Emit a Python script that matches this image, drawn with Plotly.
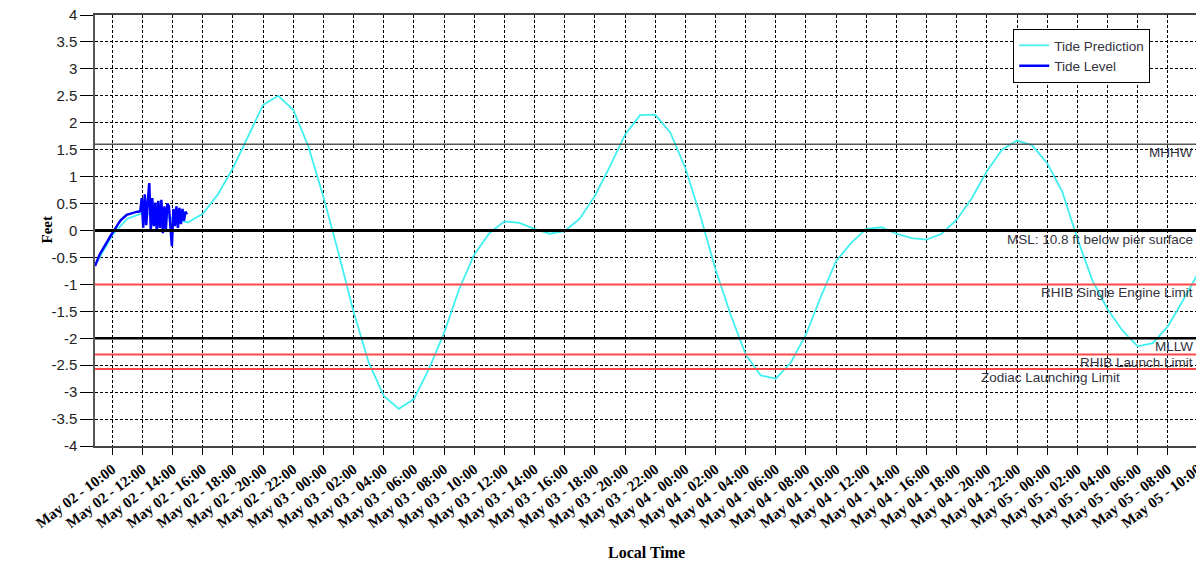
import pandas as pd
import plotly.graph_objects as go

# ---- data ----
pred_start = "2024-05-02 09:00"
pred_values = [
    -0.58, -0.08, 0.22, 0.32, 0.30, 0.22, 0.15, 0.31, 0.67, 1.16,
    1.76, 2.33, 2.50, 2.24, 1.56, 0.62, -0.42, -1.51, -2.45, -3.07,
    -3.31, -3.13, -2.57, -1.90, -1.09, -0.45, -0.05, 0.17, 0.14, 0.03,
    -0.06, -0.01, 0.22, 0.64, 1.19, 1.78, 2.14, 2.15, 1.82, 1.16,
    0.27, -0.72, -1.56, -2.30, -2.69, -2.75, -2.45, -1.93, -1.22, -0.57,
    -0.23, 0.03, 0.06, -0.06, -0.14, -0.17, -0.06, 0.20, 0.60, 1.10,
    1.50, 1.67, 1.58, 1.25, 0.72, -0.15, -0.93, -1.46, -1.86, -2.15,
    -2.09, -1.78, -1.30, -0.80,
]

level_start = "2024-05-02 08:51"
level_values = [
    -0.66, -0.58, -0.51, -0.45, -0.40, -0.35, -0.30, -0.25, -0.21, -0.17,
    -0.12, -0.07, -0.03, 0.02, 0.07, 0.11, 0.15, 0.19, 0.22, 0.25,
    0.27, 0.29, 0.30, 0.31, 0.32, 0.33, 0.33, 0.34, 0.35, 0.35,
    0.36, 0.60, 0.05, 0.67, 0.10, 0.55, 0.88, 0.00, 0.60, 0.08,
    0.52, -0.02, 0.55, 0.05, 0.57, -0.05, 0.45, 0.02, 0.50, 0.45,
    0.05, -0.29, 0.40, 0.08, 0.45, 0.05, 0.42, 0.12, 0.40, 0.18,
    0.35, 0.30,
]

ref_names = ["MHHW", "MSL: 10.8 ft below pier surface", "RHIB Single Engine Limit",
             "MLLW", "RHIB Launch Limit", "Zodiac Launching Limit"]
ref_values = [1.6, 0.0, -1.0, -2.0, -2.3, -2.57]
ref_colors = ["#555555", "#000000", "#ff4848", "#000000", "#ff4848", "#ff4848"]
ref_widths = [1.5, 3, 2, 2.5, 2, 2]
ref_label_shift = [-3, -3, -3, -3, -3, -76]

x_range = ["2024-05-02 08:51", "2024-05-05 10:00"]
y_ticks = [-4, -3.5, -3, -2.5, -2, -1.5, -1, -0.5, 0, 0.5, 1, 1.5, 2, 2.5, 3, 3.5, 4]

pred_times = pd.date_range(pred_start, periods=len(pred_values), freq="1h")
level_times = pd.date_range(level_start, periods=len(level_values), freq="6min")

fig = go.Figure()
fig.add_trace(go.Scatter(x=pred_times, y=pred_values, mode="lines", name="Tide Prediction",
                         line=dict(color="#40f0f0", width=1.8)))
fig.add_trace(go.Scatter(x=level_times, y=level_values, mode="lines", name="Tide Level",
                         line=dict(color="#0000ff", width=2.5)))

shapes = []
annotations = []
for name, v, c, w, sh in zip(ref_names, ref_values, ref_colors, ref_widths, ref_label_shift):
    shapes.append(dict(type="line", xref="paper", x0=0, x1=1, yref="y", y0=v, y1=v,
                       line=dict(color=c, width=w), layer="above"))
    annotations.append(dict(x=1, xref="paper", y=v, yref="y", text=name, showarrow=False,
                            xanchor="right", yanchor="top", xshift=sh, yshift=1,
                            font=dict(family="Liberation Sans", size=13.5, color="#333340")))

annotations.append(dict(x=0, xref="paper", y=0.5, yref="paper", text="<b>Feet</b>",
                        showarrow=False, textangle=-90, xshift=-59,
                        font=dict(family="Liberation Serif", size=15, color="#000")))
annotations.append(dict(x=0.5, xref="paper", y=0, yref="paper", text="<b>Local Time</b>",
                        showarrow=False, yshift=-106, yanchor="middle",
                        font=dict(family="Liberation Serif", size=16, color="#000")))

# page body has an 8px margin: figure is offset so the plot area lands at x 95-1198, y 15-446
fig.update_layout(
    width=1196, height=557,
    margin=dict(l=87, r=6, t=7, b=119),
    paper_bgcolor="white", plot_bgcolor="white",
    shapes=shapes, annotations=annotations,
    showlegend=True,
    legend=dict(x=0.8325, y=0.9675, xanchor="left", yanchor="top",
                bgcolor="white", bordercolor="#000", borderwidth=1,
                font=dict(family="Liberation Sans", size=13.5, color="#333340"),
                tracegroupgap=0, itemwidth=30),
    xaxis=dict(range=x_range, type="date", tick0="2024-05-02 10:00", dtick=7200000,
               tickformat="%b %d - %H:%M", tickangle=-37,
               tickfont=dict(family="Liberation Serif", size=15, color="#000", weight="bold"),
               showgrid=True, gridcolor="#000", griddash="3px,2px", gridwidth=1,
               ticks="outside", ticklen=7, tickcolor="#000",
               showline=True, linecolor="#444", linewidth=1.5, mirror=True, zeroline=False,
               automargin=False, ticklabeloverflow="allow"),
    yaxis=dict(range=[-4, 4], tickvals=y_ticks,
               ticktext=[("%g" % t) for t in y_ticks],
               tickfont=dict(family="Liberation Sans", size=15, color="#222"),
               showgrid=True, gridcolor="#000", griddash="3px,2px", gridwidth=1,
               ticks="outside", ticklen=13, tickcolor="#000",
               showline=True, linecolor="#555", linewidth=1.5, mirror=True, zeroline=False,
               automargin=False, ticklabeloverflow="allow"),
)

fig.write_html("out.html")
